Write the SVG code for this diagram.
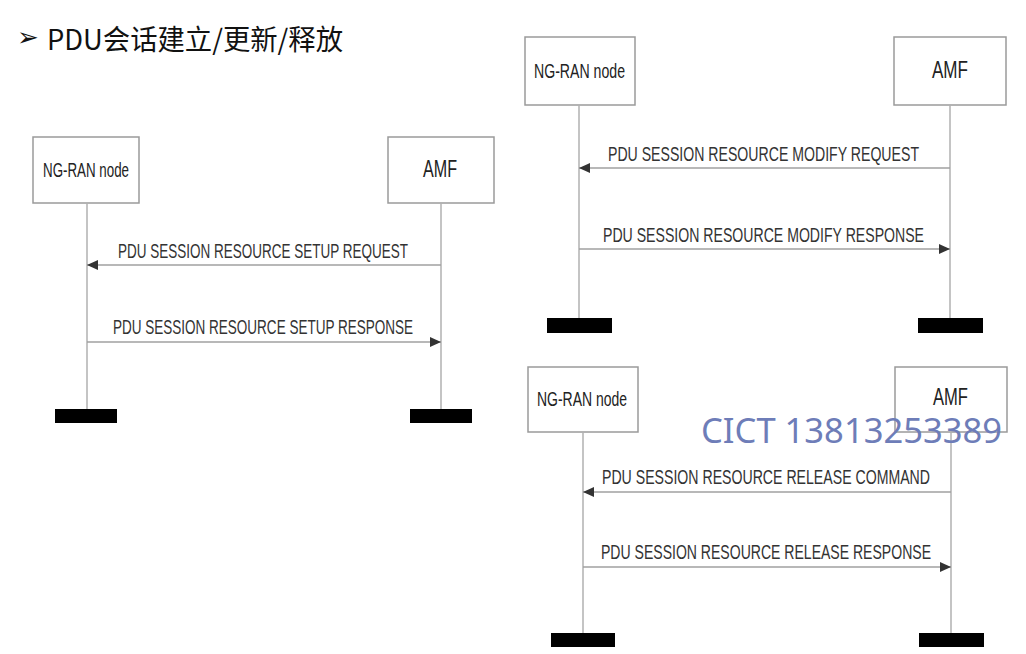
<svg xmlns="http://www.w3.org/2000/svg" width="1026" height="654" viewBox="0 0 1026 654">
<style>
.box{fill:#fff;stroke:#9a9a9a;stroke-width:1.5}
.life{stroke:#b0b0b0;stroke-width:1.5}
.msg{stroke:#a0a0a0;stroke-width:1.5;fill:none}
.bar{fill:#000}
.lbl{font-family:"Liberation Sans",Arial,sans-serif;fill:#222}
.mtxt{font-family:"Liberation Sans",Arial,sans-serif;font-size:21px;fill:#333}
</style>
<defs>
<marker id="ah" markerUnits="userSpaceOnUse" markerWidth="11" markerHeight="10" refX="11" refY="5" orient="auto">
<path d="M0,0 L11,5 L0,10 z" fill="#333"/>
</marker>
</defs>
<rect width="1026" height="654" fill="#fff"/>
<g id="title">
<text x="17" y="46" font-family="DejaVu Sans,sans-serif" font-size="26" fill="#111">➢</text>
<text x="47" y="50" font-family="'Noto Sans CJK SC',sans-serif" font-size="28" fill="#111" textLength="296" lengthAdjust="spacingAndGlyphs">PDU会话建立/更新/释放</text>
</g>
<!-- Diagram 1 -->
<g id="d1-ngran">
<rect class="box" x="33" y="137" width="106" height="66"/>
<line class="life" x1="87" y1="203" x2="87" y2="410"/>
<rect class="bar" x="55" y="409" width="62" height="14"/>
<text class="lbl" x="43" y="177" font-size="20" textLength="86" lengthAdjust="spacingAndGlyphs">NG-RAN node</text>
</g>
<g id="d1-amf">
<rect class="box" x="388" y="137" width="106" height="66"/>
<line class="life" x1="441" y1="203" x2="441" y2="410"/>
<rect class="bar" x="410" y="409" width="62" height="14"/>
<text class="lbl" x="423" y="177" font-size="24" textLength="34" lengthAdjust="spacingAndGlyphs">AMF</text>
</g>
<!-- Diagram 2 -->
<g id="d2-ngran">
<rect class="box" x="525" y="37" width="110" height="68"/>
<line class="life" x1="579" y1="105" x2="579" y2="319"/>
<rect class="bar" x="547" y="318" width="65" height="15"/>
<text class="lbl" x="534" y="77.5" font-size="20" textLength="91" lengthAdjust="spacingAndGlyphs">NG-RAN node</text>
</g>
<g id="d2-amf">
<rect class="box" x="894" y="37" width="112" height="68"/>
<line class="life" x1="950" y1="105" x2="950" y2="319"/>
<rect class="bar" x="918" y="318" width="65" height="15"/>
<text class="lbl" x="932" y="77.5" font-size="24" textLength="36" lengthAdjust="spacingAndGlyphs">AMF</text>
</g>
<!-- Diagram 3 -->
<g id="d3-ngran">
<rect class="box" x="528" y="367" width="110" height="65"/>
<line class="life" x1="583" y1="432" x2="583" y2="634"/>
<rect class="bar" x="551" y="633" width="64" height="14"/>
<text class="lbl" x="537" y="405.5" font-size="20" textLength="90" lengthAdjust="spacingAndGlyphs">NG-RAN node</text>
</g>
<g id="d3-amf">
<rect class="box" x="895" y="367" width="112" height="65"/>
<line class="life" x1="951" y1="432" x2="951" y2="634"/>
<rect class="bar" x="919" y="633" width="65" height="14"/>
<text class="lbl" x="933" y="405" font-size="24" textLength="35" lengthAdjust="spacingAndGlyphs">AMF</text>
</g>
<g id="connectors">
<line class="msg" x1="441" y1="265" x2="87" y2="265" marker-end="url(#ah)"/>
<text class="mtxt" x="118" y="258" textLength="290" lengthAdjust="spacingAndGlyphs">PDU SESSION RESOURCE SETUP REQUEST</text>
<line class="msg" x1="87" y1="342" x2="441" y2="342" marker-end="url(#ah)"/>
<text class="mtxt" x="113" y="334" textLength="300" lengthAdjust="spacingAndGlyphs">PDU SESSION RESOURCE SETUP RESPONSE</text>
<line class="msg" x1="950" y1="168" x2="579" y2="168" marker-end="url(#ah)"/>
<text class="mtxt" x="608" y="161" textLength="311" lengthAdjust="spacingAndGlyphs">PDU SESSION RESOURCE MODIFY REQUEST</text>
<line class="msg" x1="579" y1="249" x2="950" y2="249" marker-end="url(#ah)"/>
<text class="mtxt" x="603" y="241.5" textLength="321" lengthAdjust="spacingAndGlyphs">PDU SESSION RESOURCE MODIFY RESPONSE</text>
<line class="msg" x1="951" y1="492" x2="583" y2="492" marker-end="url(#ah)"/>
<text class="mtxt" x="602" y="484" textLength="328" lengthAdjust="spacingAndGlyphs">PDU SESSION RESOURCE RELEASE COMMAND</text>
<line class="msg" x1="583" y1="567" x2="951" y2="567" marker-end="url(#ah)"/>
<text class="mtxt" x="601" y="559" textLength="330" lengthAdjust="spacingAndGlyphs">PDU SESSION RESOURCE RELEASE RESPONSE</text>
</g>
<g id="watermark">
<text x="701" y="442.5" font-family="'Noto Sans',sans-serif" font-size="35" fill="#6e7db8" textLength="301" lengthAdjust="spacingAndGlyphs">CICT 13813253389</text>
</g>
</svg>
